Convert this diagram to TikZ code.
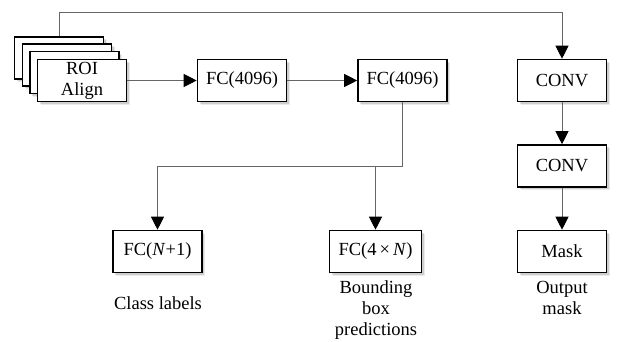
\documentclass[tikz,border=0pt]{standalone}
\usepackage{fontspec}
\setmainfont{Liberation Serif}
\usetikzlibrary{arrows.meta,shadows}
\begin{document}
\begin{tikzpicture}[x=1pt,y=-1pt,
  font=\fontsize{18.5}{21}\selectfont,
  blk/.style={draw=black, line width=1.6pt, fill=white, minimum width=89pt, minimum height=42pt,
    inner sep=2pt, align=center,
    drop shadow={shadow xshift=3pt, shadow yshift=-3pt, fill=black, opacity=0.08},
    drop shadow={shadow xshift=2pt, shadow yshift=-2pt, fill=black, opacity=0.12}},
  conn/.style={draw=black!60, line width=0.9pt},
  arr/.style={conn, -{Triangle[length=13pt,width=13pt,fill=black,color=black]}},
  lbl/.style={align=center, inner sep=0pt}]
\useasboundingbox (0,0) rectangle (619,341);
% ROI stack
\node[blk] (roi1) at (59,58) {};
\node[blk] (roi2) at (67,65) {};
\node[blk] (roi3) at (74.5,72.5) {};
\node[blk] (roi) at (82,80.5) {ROI\\Align};
% main row
\node[blk] (fc1) at (242,80.5) {FC(4096)};
\node[blk] (fc2) at (402.5,80.5) {FC(4096)};
\node[blk] (conv1) at (562,80.5) {CONV};
\node[blk] (conv2) at (562,166) {CONV};
\node[blk] (mask) at (562,251.5) {Mask};
% bottom row
\node[blk] (cls) at (157.5,251.5) {FC(\textit{N}+1)};
\node[blk, minimum width=92pt] (box) at (375.5,251.5) {FC(4\,×\,\textit{N})};
% labels
\node[lbl] (clsl) at (158,303) {Class labels};
\node[lbl] (boxl) at (376,310) {Bounding\\box\\predictions};
\node[lbl] (maskl) at (562,298) {Output\\mask};
% connectors
\coordinate (top) at (59,12);
\coordinate (split) at (402.5,166);
\draw[arr] (roi1.north) -- (top) -| (conv1.north);
\draw[arr] (roi.east) -- (fc1.west);
\draw[arr] (fc1.east) -- (fc2.west);
\draw[arr] (conv1.south) -- (conv2.north);
\draw[arr] (conv2.south) -- (mask.north);
\draw[conn] (fc2.south) -- (split);
\draw[arr] (split) -| (cls.north);
\draw[arr] (box.north |- split) -- (box.north);
\end{tikzpicture}
\end{document}
